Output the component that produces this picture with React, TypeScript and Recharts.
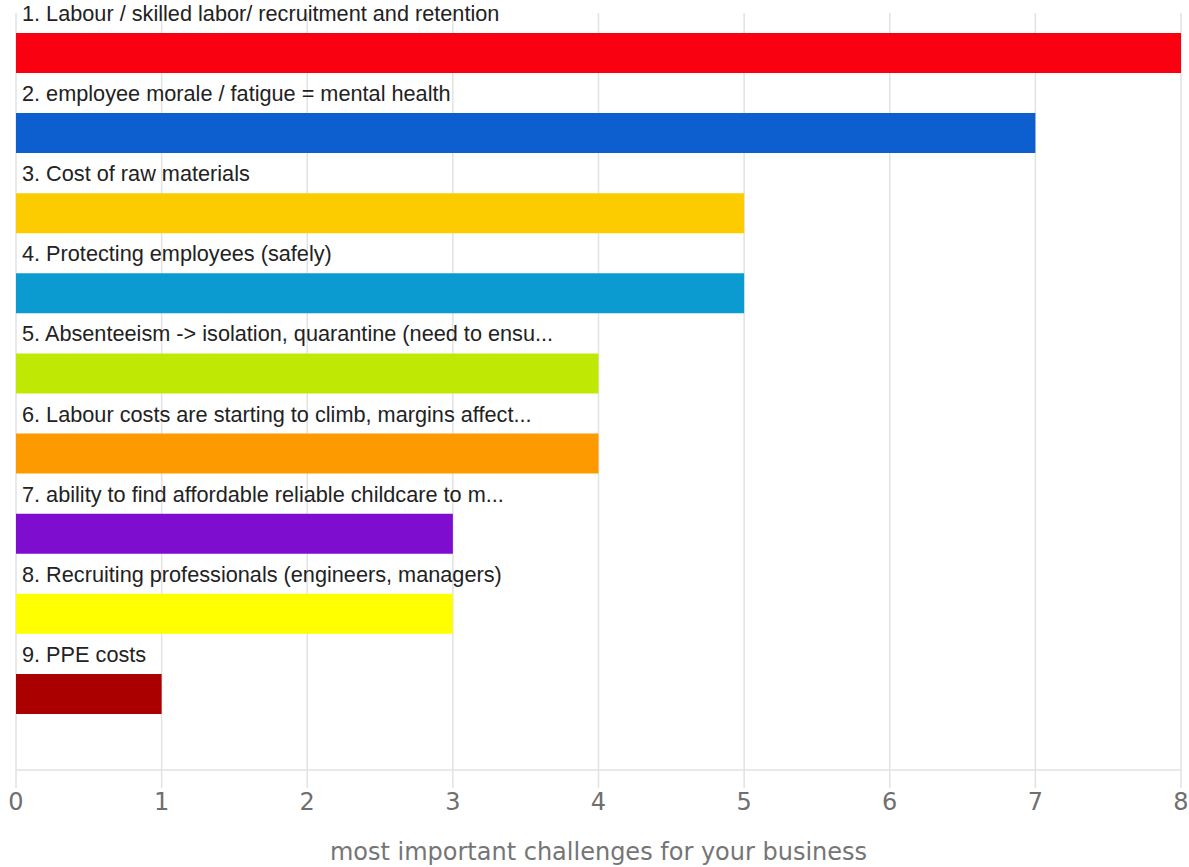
import React from 'react';
import { BarChart, Bar, XAxis, YAxis, CartesianGrid, Cell, LabelList } from 'recharts';

const categories = [
  '1. Labour / skilled labor/ recruitment and retention',
  '2. employee morale / fatigue = mental health',
  '3. Cost of raw materials',
  '4. Protecting employees (safely)',
  '5. Absenteeism -> isolation, quarantine (need to ensu...',
  '6. Labour costs are starting to climb, margins affect...',
  '7. ability to find affordable reliable childcare to m...',
  '8. Recruiting professionals (engineers, managers)',
  '9. PPE costs',
];
const values = [8, 7, 5, 5, 4, 4, 3, 3, 1];
const colors = ['#f90110', '#0d5fd0', '#fdcc00', '#0c9bd0', '#bfe905', '#fd9a00', '#7f0dcf', '#ffff00', '#aa0000'];
const xTicks = [0, 1, 2, 3, 4, 5, 6, 7, 8];
const axisTitle = 'most important challenges for your business';

const data = categories.map((name, i) => ({ name, value: values[i] }));

const BarLabel = (props: any) => {
  const { x, y, value } = props;
  return (
    <text x={x + 6} y={y - 12} fill="#222" fontSize={21.7} fontFamily="'Liberation Sans', Arial, sans-serif">
      {value}
    </text>
  );
};

export default function App() {
  return (
    <div style={{ position: 'absolute', left: 0, top: 0 }}>
      <BarChart
        width={1189}
        height={867}
        data={data}
        layout="vertical"
        margin={{ top: 13, right: 8, bottom: 0, left: 16 }}
      >
        <CartesianGrid horizontal={false} stroke="#e2e2e2" strokeWidth={1.5} />
        <XAxis
          type="number"
          domain={[0, 8]}
          ticks={xTicks}
          interval={0}
          height={97}
          tickSize={18}
          tickMargin={5}
          axisLine={{ stroke: '#e2e2e2', strokeWidth: 1.5 }}
          tickLine={{ stroke: '#e2e2e2', strokeWidth: 1.5 }}
          tick={{ fill: '#6f6f6f', fontSize: 24, fontFamily: "'DejaVu Sans', sans-serif" }}
          label={{
            value: axisTitle,
            position: 'insideBottom',
            offset: 7,
            fill: '#757575',
            fontSize: 24,
            fontFamily: "'DejaVu Sans', sans-serif",
          }}
        />
        <YAxis
          type="category"
          dataKey="name"
          width={0}
          tick={false}
          tickLine={false}
          axisLine={{ stroke: '#c8c8c8', strokeWidth: 1.5 }}
          padding={{ top: 0, bottom: 36 }}
        />
        <Bar dataKey="value" barSize={40} isAnimationActive={false}>
          {data.map((d, i) => (
            <Cell key={d.name} fill={colors[i]} />
          ))}
          <LabelList dataKey="name" content={BarLabel} />
        </Bar>
      </BarChart>
    </div>
  );
}
